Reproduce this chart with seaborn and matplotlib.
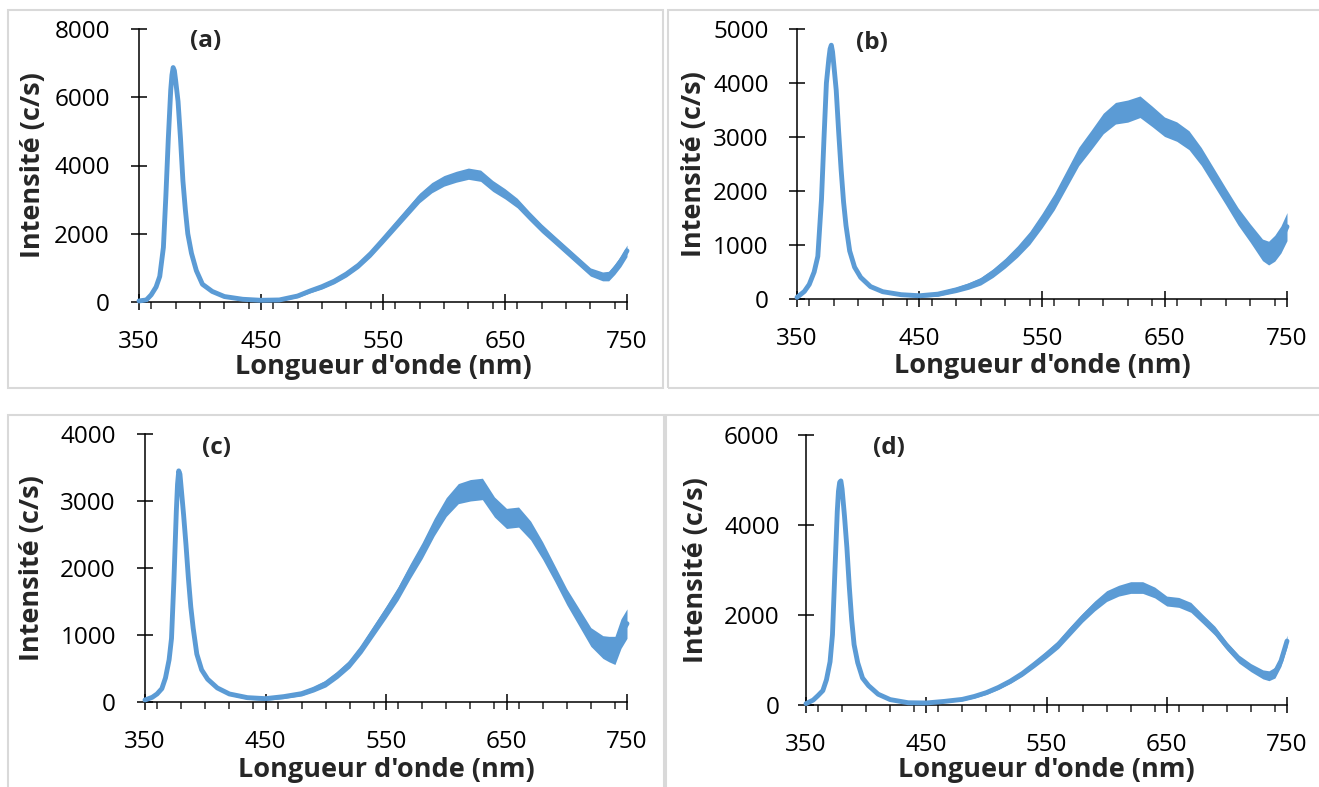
import numpy as np
import pandas as pd
import matplotlib
matplotlib.use("Agg")
import matplotlib.pyplot as plt
import seaborn as sns
from matplotlib.patches import Rectangle
from matplotlib.ticker import MultipleLocator

# Shared wavelength grid (nm), finer around the UV peak
wavelength = [350, 356, 360, 364, 367, 370, 372, 374, 376, 377, 378, 379, 380, 382, 384, 386, 388, 390,
              393, 397, 402, 410, 420, 435, 450,
              465, 480, 490, 500, 510, 520, 530, 540, 550, 560, 570, 580, 590, 600, 610, 620,
              630, 640, 650, 660, 670, 680, 690, 700, 710, 720, 730, 735, 740, 745, 750]

# Mean intensity (c/s)
intensity_a = [30, 60, 210, 440, 750, 1600, 3090, 4770, 6210, 6650, 6870, 6780, 6500, 5880, 4800, 3550, 2700, 2000,
               1430, 920, 520, 310, 160, 80, 50,
               60, 175, 320, 450, 610, 820, 1080, 1420, 1820, 2230, 2640, 3050, 3350, 3550, 3670, 3760,
               3700, 3400, 3170, 2900, 2520, 2160, 1840, 1520, 1200, 880, 750, 760, 960, 1200, 1500]
intensity_b = [30, 140, 270, 500, 790, 1850, 2960, 4000, 4450, 4630, 4700, 4580, 4350, 3870, 3100, 2400, 1800, 1360,
               890, 590, 400, 230, 135, 80, 60,
               90, 170, 240, 330, 480, 665, 880, 1130, 1450, 1800, 2220, 2640, 2940, 3250, 3440, 3480,
               3560, 3380, 3190, 3100, 2940, 2640, 2270, 1900, 1530, 1220, 910, 850, 940, 1100, 1340]
intensity_c = [30, 70, 120, 200, 360, 630, 950, 1820, 2850, 3250, 3450, 3400, 3200, 2800, 2350, 1850, 1420, 1100,
               715, 480, 340, 210, 120, 65, 50,
               80, 125, 190, 275, 410, 570, 800, 1070, 1340, 1620, 1950, 2260, 2610, 2910, 3110, 3160,
               3180, 2910, 2740, 2760, 2560, 2260, 1920, 1570, 1270, 970, 820, 790, 770, 1020, 1170]
intensity_d = [30, 110, 210, 320, 560, 960, 1560, 2950, 4300, 4750, 4950, 4980, 4800, 4200, 3500, 2630, 1890, 1340,
               940, 600, 430, 240, 120, 50, 45,
               80, 125, 190, 275, 390, 530, 700, 905, 1120, 1350, 1650, 1940, 2200, 2420, 2540, 2610,
               2610, 2500, 2310, 2280, 2170, 1910, 1650, 1310, 1020, 830, 680, 650, 720, 980, 1420]

# Half-width of the noise band around the mean (c/s)
spread_a = [0, 0, 0, 0, 0, 0, 0, 0, 0, 0, 0, 0, 0, 0, 0, 0, 0, 0, 0, 0, 0, 20, 30, 35, 35,
            35, 45, 55, 70, 75, 85, 90, 100, 110, 120, 130, 140, 150, 155, 160, 165,
            165, 160, 150, 140, 130, 125, 120, 120, 120, 120, 130, 140, 150, 160, 170]
spread_b = [0, 0, 0, 0, 0, 0, 0, 0, 0, 0, 0, 0, 0, 0, 0, 0, 0, 0, 0, 0, 0, 15, 20, 25, 30,
            40, 50, 60, 70, 80, 90, 105, 120, 135, 150, 160, 170, 180, 190, 200, 205,
            200, 190, 180, 180, 175, 165, 160, 155, 160, 170, 200, 220, 240, 250, 260]
spread_c = [0, 0, 0, 0, 0, 0, 0, 0, 0, 0, 0, 0, 0, 0, 0, 0, 0, 0, 0, 0, 0, 15, 20, 25, 25,
            30, 35, 40, 50, 55, 60, 70, 80, 90, 100, 110, 120, 130, 140, 150, 160,
            160, 150, 150, 150, 140, 130, 120, 120, 130, 140, 170, 190, 210, 220, 220]
spread_d = [0, 0, 0, 0, 0, 0, 0, 0, 0, 0, 0, 0, 0, 0, 0, 0, 0, 0, 0, 0, 0, 10, 15, 20, 20,
            25, 30, 35, 40, 45, 50, 60, 70, 80, 90, 100, 100, 110, 120, 120, 130,
            130, 120, 110, 110, 110, 100, 100, 90, 90, 90, 100, 110, 120, 120, 130]

panel_labels = ["(a)", "(b)", "(c)", "(d)"]
y_max = [8000, 5000, 4000, 6000]
y_step = [2000, 1000, 1000, 2000]
x_ticks = [350, 450, 550, 650, 750]

# Layout in pixels (figure is 1319 x 787): axes box left, right, top, bottom
W, H = 1319, 787
AXES_PX = [(139, 627, 29, 302), (797, 1287, 29, 299), (145, 627, 434, 702), (806, 1287, 435, 705)]
FRAMES_PX = [(8, 663, 10, 388), (668, 1330, 10, 388), (8, 664, 415, 800), (666, 1330, 415, 800)]
XLABEL_Y = [-0.238, -0.248, -0.254, -0.241]
YLABEL_X = [-0.217, -0.21, -0.234, -0.229]
TAG_POS = [(0.137, 0.956), (0.153, 0.95), (0.149, 0.948), (0.172, 0.952)]
YPAD = [15, 14.5, 15, 13]

LINE_COLOR = "#5B9BD5"

sns.set_style("ticks")
plt.rcParams["font.family"] = ["Open Sans", "DejaVu Sans"]

fig = plt.figure(figsize=(W / 100, H / 100), dpi=100)

# light grey chart frames
for (x0, x1, y0, y1) in FRAMES_PX:
    fig.patches.append(Rectangle((x0 / W, 1 - y1 / H), (x1 - x0) / W, (y1 - y0) / H,
                                 transform=fig.transFigure, fill=False,
                                 edgecolor="#D9D9D9", linewidth=1.5, zorder=0))

series = [(intensity_a, spread_a), (intensity_b, spread_b),
          (intensity_c, spread_c), (intensity_d, spread_d)]

for i, (vals, spread) in enumerate(series):
    left, right, top, bottom = AXES_PX[i]
    ax = fig.add_axes([left / W, 1 - bottom / H, (right - left) / W, (bottom - top) / H])
    ax.set_facecolor("none")

    df = pd.DataFrame({"wl": wavelength, "I": vals, "s": spread})
    ax.fill_between(df["wl"], df["I"] - df["s"], df["I"] + df["s"],
                    color=LINE_COLOR, linewidth=0, clip_on=False, zorder=3)
    sns.lineplot(data=df, x="wl", y="I", ax=ax, color=LINE_COLOR, linewidth=3.5,
                 solid_joinstyle="round", solid_capstyle="round", clip_on=False, zorder=4)

    ax.set_xlim(350, 750)
    ax.set_ylim(0, y_max[i])
    ax.set_xticks(x_ticks)
    ax.xaxis.set_minor_locator(MultipleLocator(20))
    ax.yaxis.set_major_locator(MultipleLocator(y_step[i]))

    sns.despine(ax=ax)
    for side in ["left", "bottom"]:
        ax.spines[side].set_color("black")
        ax.spines[side].set_linewidth(1.1)
        ax.spines[side].set_zorder(2)

    ax.tick_params(axis="x", which="major", direction="inout", length=12, width=1.1,
                   labelsize=17.5, pad=14, colors="black")
    ax.tick_params(axis="x", which="minor", direction="out", length=5, width=1.1)
    ax.tick_params(axis="y", which="major", direction="inout", length=12, width=1.1,
                   labelsize=17.5, pad=YPAD[i], colors="black")

    ax.set_xlabel("Longueur d'onde (nm)", fontsize=19.5, fontweight="bold")
    ax.set_ylabel("Intensité (c/s)", fontsize=19.5, fontweight="bold")
    ax.xaxis.set_label_coords(0.5, XLABEL_Y[i])
    ax.yaxis.set_label_coords(YLABEL_X[i], 0.5)
    ax.xaxis.label.set_va("center")
    ax.yaxis.label.set_va("center")

    ax.text(TAG_POS[i][0], TAG_POS[i][1], panel_labels[i], transform=ax.transAxes,
            ha="center", va="center", fontsize=17.5, fontweight="bold")

fig.savefig("out.png", dpi=100)
plt.close(fig)
